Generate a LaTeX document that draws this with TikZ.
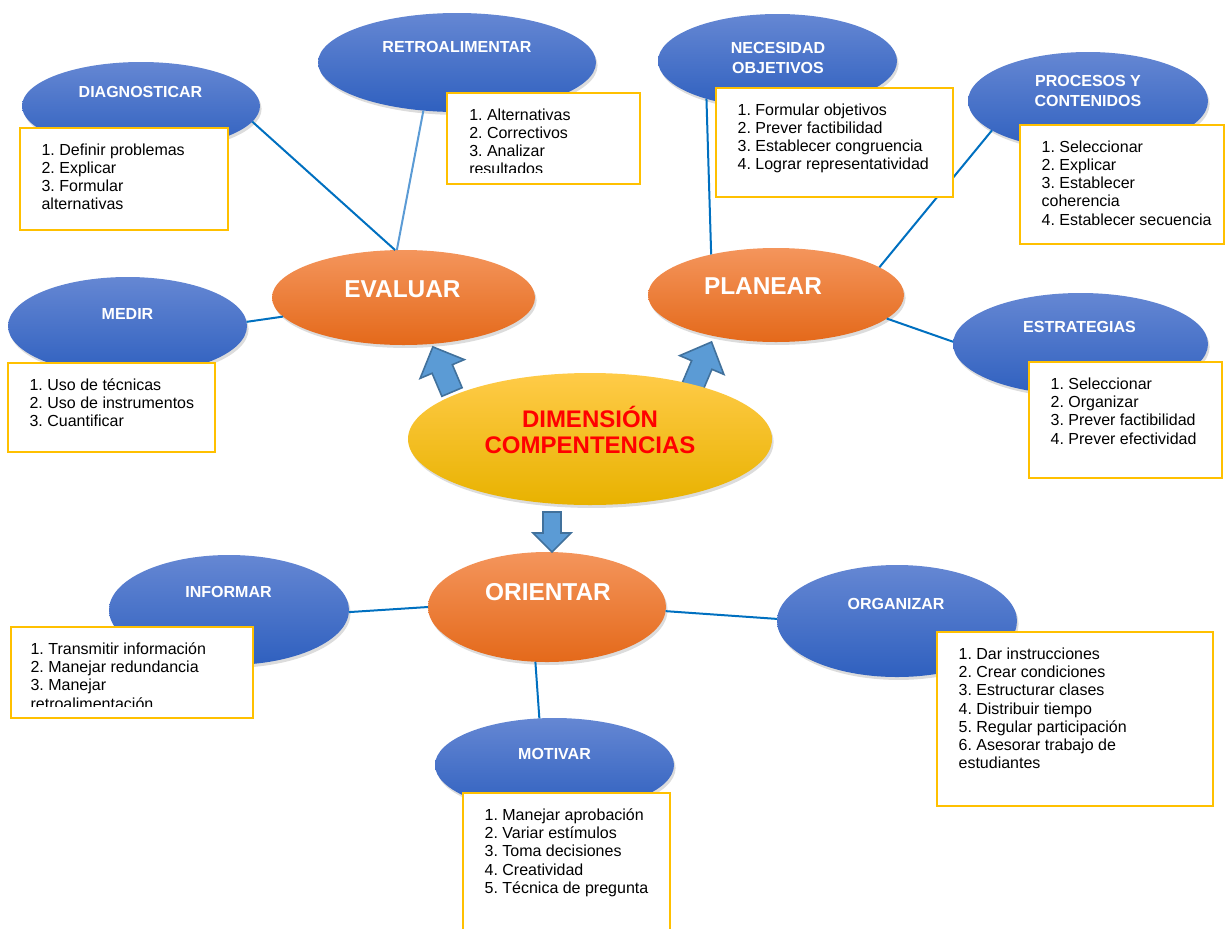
\documentclass[tikz,border=0pt]{standalone}
\usepackage{fontspec}
\setmainfont{Liberation Sans}
\frenchspacing
\usetikzlibrary{shapes.geometric,shadows}
\definecolor{bluetop}{HTML}{6587D3}
\definecolor{bluemid}{HTML}{4472C4}
\definecolor{bluebot}{HTML}{2F60BF}
\definecolor{orgtop}{HTML}{F4955C}
\definecolor{orgmid}{HTML}{F27C2C}
\definecolor{orgbot}{HTML}{E4691A}
\definecolor{yeltop}{HTML}{FFCB48}
\definecolor{yelmid}{HTML}{FFC000}
\definecolor{yelbot}{HTML}{E8B200}
\definecolor{dimred}{HTML}{FF0000}
\definecolor{boxgold}{HTML}{FFC000}
\definecolor{arrowfill}{HTML}{5B9BD5}
\definecolor{arrowline}{HTML}{41719C}
\definecolor{linkblue}{HTML}{0070C0}
\definecolor{linklight}{HTML}{5B9BD5}
\newcommand\mkbox[6]{%
  \node[listbox, minimum width=#4*0.75pt, minimum height=#5*0.75pt] (#1) at (#2,#3) {};
  \node[listtext] (#1t) at ([xshift=16pt, yshift=-11.5pt]#1.north west) {#6};}
\begin{document}
\begin{tikzpicture}[x=0.75pt,y=-0.75pt,
  ell/.style={ellipse, inner sep=0pt, outer sep=0pt,
    drop shadow={opacity=0.28, shadow xshift=1.2pt, shadow yshift=-2.2pt}},
  blueell/.style={ell, top color=bluetop, middle color=bluemid, bottom color=bluebot},
  orangeell/.style={ell, top color=orgtop, middle color=orgmid, bottom color=orgbot},
  yellowell/.style={ell, top color=yeltop, middle color=yelmid, bottom color=yelbot},
  bluelab/.style={text=white, inner sep=0pt, align=center,
    font=\bfseries\fontsize{12}{15}\selectfont},
  orangelab/.style={text=white, inner sep=0pt, font=\bfseries\fontsize{18.3}{20}\selectfont},
  dimlab/.style={text=dimred, inner sep=0pt, align=center,
    font=\bfseries\fontsize{18}{19.5}\selectfont},
  listbox/.style={draw=boxgold, line width=1.9pt, fill=white, inner sep=0pt,
    outer sep=0pt, anchor=north west},
  listtext/.style={anchor=north west, inner sep=0pt, align=left,
    font=\fontsize{12}{13.7}\selectfont},
  link/.style={draw=linkblue, line width=1.5pt},
  barrow/.style={fill=arrowfill, draw=arrowline, line width=1.2pt, line join=miter}]
\useasboundingbox (0,0) rectangle (1226,928);

% blue ellipses
\node[blueell, minimum width=178.5pt, minimum height=66pt] (diag) at (141,106) {};
\node[blueell, minimum width=208.5pt, minimum height=74.25pt] (retro) at (457,62.5) {};
\node[blueell, minimum width=179.25pt, minimum height=70.5pt] (nec) at (777.5,61) {};
\node[blueell, minimum width=180pt, minimum height=73.5pt] (proc) at (1088,101) {};
\node[blueell, minimum width=179.25pt, minimum height=73.5pt] (medir) at (127.5,326) {};
\node[blueell, minimum width=191.25pt, minimum height=76.5pt] (strat) at (1080.5,344) {};
\node[blueell, minimum width=180pt, minimum height=82.5pt] (inf) at (229,610) {};
\node[blueell, minimum width=180pt, minimum height=84pt] (org) at (897,621) {};
\node[blueell, minimum width=179.25pt, minimum height=70.5pt] (mot) at (554.5,765) {};

% orange ellipses
\node[orangeell, minimum width=197.25pt, minimum height=71.25pt] (eval) at (403.5,297.5) {};
\node[orangeell, minimum width=192pt, minimum height=70.5pt] (plan) at (776,295) {};
\node[orangeell, minimum width=178.5pt, minimum height=82.5pt] (ori) at (547,607) {};

% block arrows
\begin{scope}[shift={(452,392)}, rotate=23]
  \draw[barrow] (-11,0) -- (-11,-25) -- (-24,-25) -- (0,-49) -- (24,-25) -- (11,-25) -- (11,0) -- cycle;
\end{scope}
\begin{scope}[shift={(692,388)}, rotate=-23]
  \draw[barrow] (-11,0) -- (-11,-25) -- (-24,-25) -- (0,-50) -- (24,-25) -- (11,-25) -- (11,0) -- cycle;
\end{scope}
\begin{scope}[shift={(552,512)}, rotate=180]
  \draw[barrow] (-9,0) -- (-9,-21) -- (-19,-21) -- (0,-40) -- (19,-21) -- (9,-21) -- (9,0) -- cycle;
\end{scope}

% central ellipse
\node[yellowell, minimum width=273pt, minimum height=99pt] (dim) at (590,439) {};

% labels
\node[bluelab] (diagl) at (140.5,92) {DIAGNOSTICAR};
\node[bluelab] (retrol) at (457,47) {RETROALIMENTAR};
\node[bluelab] (necl) at (778,57.5) {NECESIDAD\\OBJETIVOS};
\node[bluelab] (procl) at (1088,90.5) {PROCESOS Y\\CONTENIDOS};
\node[bluelab] (medirl) at (127.5,314) {MEDIR};
\node[bluelab] (stratl) at (1079.5,327) {ESTRATEGIAS};
\node[bluelab] (infl) at (228.5,592) {INFORMAR};
\node[bluelab] (orgl) at (896,604) {ORGANIZAR};
\node[bluelab] (motl) at (554.5,754) {MOTIVAR};
\node[orangelab] (evall) at (402.5,289) {EVALUAR};
\node[orangelab] (planl) at (763,286) {PLANEAR};
\node[orangelab] (oril) at (548,592) {ORIENTAR};
\node[dimlab] (diml) at (590,430) {DIMENSIÓN\\COMPENTENCIAS};

% connectors
\draw[link] (diag.-8) -- (eval.100);
\draw[link, draw=linklight] (retro.235) -- (eval.98);
\draw[link] (nec.208) -- (plan.148);
\draw[link] (proc.197) -- (plan.15);
\draw[link] (plan.-12) -- (strat.179);
\draw[link] (medir.2) -- (eval.189);
\draw[link] (inf.-1) -- (ori.180);
\draw[link] (ori.-2) -- (org.179);
\draw[link] (ori.-102) -- (mot.108);

% list boxes
\mkbox{diagbox}{20}{128}{208}{102}{1. Definir problemas\\2. Explicar\\3. Formular\\alternativas}
\node[listbox, minimum width=193*0.75pt, minimum height=91*0.75pt] (retrobox) at (447,93) {};
\begin{scope}
  \clip (447,93) rectangle (640,172);
  \node[listtext] (retroboxt) at ([xshift=16.5pt, yshift=-11.5pt]retrobox.north west)
    {1. Alternativas\\2. Correctivos\\3. Analizar\\resultados};
\end{scope}
\mkbox{necbox}{716}{88}{237}{109}{1. Formular objetivos\\2. Prever factibilidad\\3. Establecer congruencia\\4. Lograr representatividad}
\mkbox{procbox}{1020}{125}{204}{119}{1. Seleccionar\\2. Explicar\\3. Establecer\\coherencia\\4. Establecer secuencia}
\mkbox{medirbox}{8}{363}{207}{89}{1. Uso de técnicas\\2. Uso de instrumentos\\3. Cuantificar}
\mkbox{stratbox}{1029}{362}{193}{116}{1. Seleccionar\\2. Organizar\\3. Prever factibilidad\\4. Prever efectividad}
\node[listbox, minimum width=242*0.75pt, minimum height=91*0.75pt] (infbox) at (11,627) {};
\begin{scope}
  \clip (11,627) rectangle (253,706);
  \node[listtext] (infboxt) at ([xshift=14.5pt, yshift=-11.5pt]infbox.north west)
    {1. Transmitir información\\2. Manejar redundancia\\3. Manejar\\retroalimentación};
\end{scope}
\mkbox{orgbox}{937}{632}{276}{174}{1. Dar instrucciones\\2. Crear condiciones\\3. Estructurar clases\\4. Distribuir tiempo\\5. Regular participación\\6. Asesorar trabajo de\\estudiantes}
\mkbox{motbox}{463}{793}{207}{150}{1. Manejar aprobación\\2. Variar estímulos\\3. Toma decisiones\\4. Creatividad\\5. Técnica de pregunta}
\end{tikzpicture}
\end{document}
